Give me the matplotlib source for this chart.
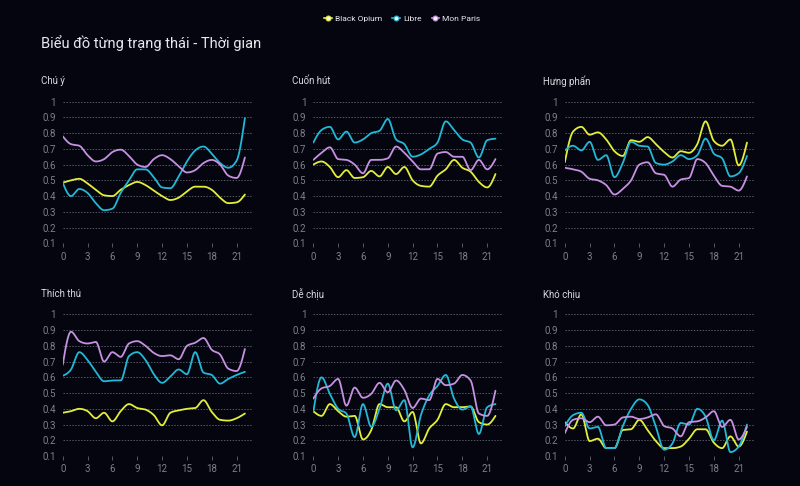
import numpy as np
import matplotlib
matplotlib.use("Agg")
import matplotlib.pyplot as plt
from matplotlib.lines import Line2D

plt.rcParams['font.family'] = ['Roboto', 'DejaVu Sans']

BG = '#04050f'
series_names = ['Black Opium', 'Libre', 'Mon Paris']
colors = ['#e3ee3a', '#22b8d8', '#c691e0']

x_vals = list(range(23))
titles = ['Chú ý', 'Cuốn hút', 'Hưng phấn', 'Thích thú', 'Dễ chịu', 'Khó chịu']

chu_y = [
    [0.485, 0.50, 0.51, 0.48, 0.44, 0.405, 0.40, 0.44, 0.47, 0.49, 0.47, 0.435,
     0.40, 0.375, 0.39, 0.43, 0.46, 0.46, 0.44, 0.39, 0.355, 0.36, 0.41],
    [0.485, 0.40, 0.445, 0.42, 0.355, 0.31, 0.32, 0.42, 0.50, 0.57, 0.57, 0.52,
     0.455, 0.45, 0.525, 0.62, 0.69, 0.715, 0.67, 0.61, 0.58, 0.625, 0.895],
    [0.78, 0.73, 0.72, 0.66, 0.62, 0.635, 0.68, 0.695, 0.655, 0.60, 0.585, 0.635,
     0.66, 0.635, 0.59, 0.55, 0.565, 0.61, 0.63, 0.60, 0.53, 0.515, 0.645],
]
cuon_hut = [
    [0.60, 0.62, 0.585, 0.52, 0.565, 0.515, 0.52, 0.56, 0.525, 0.585, 0.54, 0.585,
     0.50, 0.465, 0.46, 0.53, 0.57, 0.63, 0.58, 0.555, 0.49, 0.455, 0.54],
    [0.74, 0.82, 0.84, 0.76, 0.81, 0.74, 0.76, 0.80, 0.815, 0.89, 0.76, 0.73,
     0.65, 0.665, 0.70, 0.74, 0.875, 0.82, 0.76, 0.74, 0.645, 0.755, 0.765],
    [0.63, 0.675, 0.71, 0.635, 0.63, 0.60, 0.545, 0.63, 0.63, 0.64, 0.715, 0.675,
     0.62, 0.57, 0.57, 0.67, 0.68, 0.65, 0.65, 0.565, 0.63, 0.57, 0.635],
]
hung_phan = [
    [0.615, 0.81, 0.84, 0.79, 0.805, 0.76, 0.685, 0.655, 0.755, 0.745, 0.775, 0.73,
     0.68, 0.645, 0.685, 0.675, 0.73, 0.875, 0.75, 0.72, 0.76, 0.595, 0.74],
    [0.69, 0.72, 0.69, 0.745, 0.63, 0.66, 0.52, 0.61, 0.745, 0.72, 0.715, 0.61,
     0.60, 0.62, 0.66, 0.635, 0.66, 0.765, 0.67, 0.64, 0.525, 0.545, 0.655],
    [0.58, 0.57, 0.555, 0.51, 0.50, 0.47, 0.41, 0.445, 0.50, 0.60, 0.615, 0.545,
     0.535, 0.46, 0.505, 0.515, 0.635, 0.61, 0.53, 0.465, 0.46, 0.435, 0.525],
]
thich_thu = [
    [0.375, 0.385, 0.40, 0.385, 0.34, 0.375, 0.32, 0.385, 0.43, 0.405, 0.395, 0.36,
     0.295, 0.375, 0.39, 0.40, 0.405, 0.455, 0.38, 0.33, 0.325, 0.34, 0.37],
    [0.61, 0.65, 0.76, 0.71, 0.635, 0.575, 0.58, 0.58, 0.735, 0.76, 0.71, 0.62,
     0.565, 0.605, 0.65, 0.62, 0.76, 0.63, 0.615, 0.56, 0.59, 0.615, 0.635],
    [0.68, 0.89, 0.83, 0.815, 0.825, 0.70, 0.76, 0.73, 0.815, 0.83, 0.80, 0.755,
     0.735, 0.74, 0.715, 0.80, 0.82, 0.85, 0.775, 0.745, 0.655, 0.64, 0.78],
]
de_chiu = [
    [0.385, 0.355, 0.43, 0.385, 0.35, 0.355, 0.205, 0.265, 0.43, 0.41, 0.41, 0.32,
     0.38, 0.18, 0.275, 0.33, 0.43, 0.41, 0.41, 0.415, 0.315, 0.30, 0.355],
    [0.38, 0.60, 0.495, 0.40, 0.37, 0.22, 0.43, 0.285, 0.40, 0.56, 0.39, 0.455,
     0.155, 0.36, 0.485, 0.545, 0.615, 0.465, 0.395, 0.415, 0.24, 0.41, 0.43],
    [0.465, 0.53, 0.545, 0.59, 0.42, 0.535, 0.47, 0.495, 0.565, 0.505, 0.58, 0.52,
     0.405, 0.465, 0.455, 0.59, 0.55, 0.56, 0.615, 0.58, 0.37, 0.355, 0.515],
]
kho_chiu = [
    [0.315, 0.275, 0.365, 0.195, 0.21, 0.15, 0.15, 0.265, 0.27, 0.33, 0.265, 0.195,
     0.15, 0.15, 0.16, 0.21, 0.27, 0.27, 0.185, 0.15, 0.225, 0.16, 0.255],
    [0.29, 0.36, 0.375, 0.275, 0.285, 0.15, 0.15, 0.29, 0.40, 0.46, 0.425, 0.285,
     0.14, 0.18, 0.31, 0.30, 0.40, 0.35, 0.20, 0.325, 0.125, 0.16, 0.30],
    [0.245, 0.33, 0.34, 0.315, 0.35, 0.295, 0.30, 0.345, 0.35, 0.335, 0.345, 0.365,
     0.29, 0.275, 0.225, 0.315, 0.32, 0.345, 0.385, 0.285, 0.33, 0.205, 0.285],
]
panels = [chu_y, cuon_hut, hung_phan, thich_thu, de_chiu, kho_chiu]


def monotone_curve(x, y, n=24):
    # d3 curveMonotoneX style cubic hermite
    x = np.asarray(x, float)
    y = np.asarray(y, float)
    h = np.diff(x)
    s = np.diff(y) / h
    m = np.zeros_like(y)
    for k in range(1, len(y) - 1):
        p = (s[k - 1] * h[k] + s[k] * h[k - 1]) / (h[k - 1] + h[k])
        m[k] = (np.sign(s[k - 1]) + np.sign(s[k])) * min(abs(s[k - 1]), abs(s[k]), 0.5 * abs(p))
    m[0] = (3 * s[0] - m[1]) / 2
    m[-1] = (3 * s[-1] - m[-2]) / 2
    xs, ys = [], []
    for k in range(len(h)):
        t = np.linspace(0, 1, n, endpoint=False)
        h00 = 2 * t**3 - 3 * t**2 + 1
        h10 = t**3 - 2 * t**2 + t
        h01 = -2 * t**3 + 3 * t**2
        h11 = t**3 - t**2
        xs.append(x[k] + t * h[k])
        ys.append(h00 * y[k] + h10 * h[k] * m[k] + h01 * y[k + 1] + h11 * h[k] * m[k + 1])
    xs.append([x[-1]])
    ys.append([y[-1]])
    return np.concatenate(xs), np.concatenate(ys)


fig = plt.figure(figsize=(8, 4.86), dpi=100, facecolor=BG)

lefts = [0.0784, 0.3916, 0.706]
bottoms = [0.4994, 0.0617]
w, hgt = 0.236, 0.2914

for i, data in enumerate(panels):
    ax = fig.add_axes([lefts[i % 3], bottoms[i // 3], w, hgt])
    ax.set_facecolor(BG)
    for vals, c in zip(data, colors):
        cx, cy = monotone_curve(x_vals, vals)
        ax.plot(cx, cy, color=c, lw=1.3, solid_capstyle='round')
    ax.set_xlim(0, 22.8)
    ax.set_ylim(0.1, 1.0)
    ax.set_yticks(np.arange(0.1, 1.01, 0.1))
    ax.set_yticklabels(['0.1', '0.2', '0.3', '0.4', '0.5', '0.6', '0.7', '0.8', '0.9', '1'])
    ax.set_xticks(range(0, 22, 3))
    ax.grid(axis='y', color='#555866', linestyle=(0, (1.5, 1.5)), lw=0.7)
    ax.set_axisbelow(True)
    for sp in ax.spines.values():
        sp.set_visible(False)
    ax.tick_params(axis='y', length=0, colors='#7d808c', labelsize=7, pad=5)
    ax.tick_params(axis='x', length=3, width=0.7, color='#555866', colors='#7d808c',
                   labelsize=7, pad=3)
    ax.tick_params(axis='x', which='major', color='#555866')
    ax.text(-0.115, 1.146, titles[i], transform=ax.transAxes, color='#d8d9de',
            fontsize=7, ha='left', va='center')

fig.text(0.051, 0.912, 'Biểu đồ từng trạng thái - Thời gian', color='#e8e9ee',
         fontsize=10.5, va='center')

handles = [Line2D([0], [0], color=c, lw=1.2, marker='o', markersize=3.5,
                  markerfacecolor='#f4f4f0', markeredgecolor=c, markeredgewidth=0.8)
           for c in colors]
leg = fig.legend(handles, series_names, loc='center', bbox_to_anchor=(0.503, 0.962),
                 ncol=3, frameon=False, fontsize=6, handlelength=0.9,
                 handletextpad=0.4, columnspacing=1.2, labelcolor='#e8e9ee')

fig.savefig('out.png', dpi=100, facecolor=BG)
